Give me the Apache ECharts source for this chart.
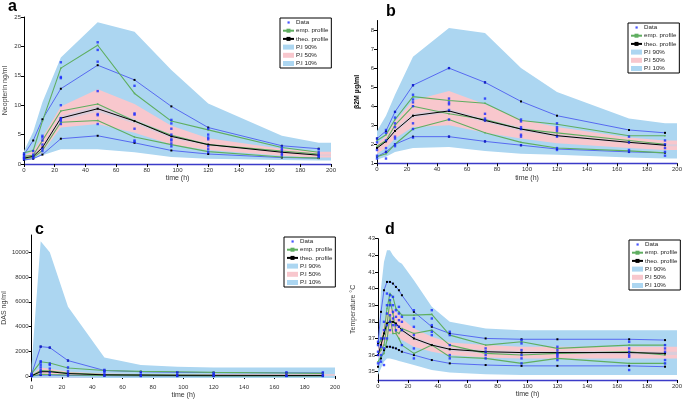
<!DOCTYPE html>
<html><head><meta charset="utf-8">
<script src="https://cdn.jsdelivr.net/npm/echarts@6/dist/echarts.min.js"></script>
<style>html,body{margin:0;padding:0;background:#fff}#c{width:685px;height:400px}</style>
</head><body><div id="c"></div>
<script>
// ---------- Panel a : Neopterin ----------
const bandTimesA = [0,6,12,24,48,72,96,120,168,192,200];
const a90Up = [2.2,5.5,10.5,18.1,24.1,22.5,16.0,10.3,4.8,3.6,3.6];
const a90Lo = [0.5,0.9,1.5,2.5,2.5,2.0,1.2,0.9,0.7,0.6,0.6];
const a50Up = [1.4,2.2,4.5,9.8,12.7,10.2,6.5,4.4,2.6,2.1,2.1];
const a50Lo = [0.7,1.0,2.0,6.2,6.8,5.3,3.3,2.4,1.4,1.1,1.1];
const a10Up = [1.1,1.4,3.0,8.2,9.9,7.7,5.0,3.5,2.1,1.6,1.6];
const a10Lo = [0.9,1.2,2.6,7.4,8.9,6.9,4.4,3.1,1.9,1.4,1.4];
const timesA = [0,6,12,24,48,72,96,120,168,192];
const aTheoUp = [1.6,4.0,7.6,12.8,16.8,14.3,9.8,6.2,3.1,2.6];
const aTheoLo = [0.7,0.9,1.6,4.3,4.8,3.6,2.3,1.7,1.1,1.0];
const aTheoMed = [1.0,1.3,2.8,7.8,9.4,7.3,4.7,3.3,2.0,1.5];
const aEmpUp = [1.9,2.3,7.3,16.3,20.2,12.0,7.3,5.8,2.8,2.0];
const aEmpMed = [1.3,1.5,4.0,9.0,10.2,7.3,4.9,3.3,2.2,1.7];
const aEmpLo = [0.9,1.1,2.3,7.1,7.4,4.6,3.3,2.1,1.2,1.0];
const aObs = [[0.8,1.0,1.2,1.5,1.8],[1.0,1.3,1.6,2.2],[2.2,2.6,3.3,4.0,4.5,4.8],[6.8,7.3,7.6,7.8,10.0,14.6,14.8,17.3],[6.8,8.3,8.5,12.4,17.4,19.4,20.7],[3.8,4.0,6.0,8.4,8.6,13.3],[3.0,3.5,4.0,4.2,5.0,6.0,6.9,7.5],[2.0,2.5,3.0,4.2,4.5,5.0,6.0],[1.5,1.8,2.3,2.6,3.0],[1.2,1.4,1.7,2.0,2.5]];

// ---------- Panel b : beta2M ----------
const bandTimesB = [0,6,12,24,48,72,96,120,168,192,200];
const b90Up = [2.7,3.5,4.6,6.6,8.1,7.85,6.0,4.75,3.35,3.1,3.1];
const b90Lo = [1.2,1.35,1.6,1.8,1.85,1.65,1.5,1.45,1.3,1.25,1.25];
const b50Up = [2.0,2.45,3.2,4.3,4.8,4.1,3.3,2.9,2.35,2.2,2.2];
const b50Lo = [1.5,1.8,2.3,2.9,3.0,2.6,2.3,2.05,1.8,1.7,1.7];
const b10Up = [1.85,2.2,2.8,3.6,3.85,3.35,2.9,2.52,2.15,2.0,2.0];
const b10Lo = [1.75,2.1,2.6,3.4,3.65,3.15,2.7,2.38,2.05,1.9,1.9];
const timesB = [0,6,12,24,48,72,96,120,168,192];
const bTheoUp = [2.3,2.7,3.7,5.1,6.0,5.25,4.25,3.5,2.75,2.6];
const bTheoLo = [1.35,1.6,2.0,2.4,2.4,2.15,1.95,1.75,1.6,1.55];
const bTheoMed = [1.8,2.15,2.7,3.5,3.75,3.25,2.8,2.45,2.1,1.95];
const bEmpUp = [2.2,2.5,3.3,4.5,4.3,4.15,3.25,3.05,2.45,2.45];
const bEmpMed = [1.9,2.2,3.0,4.0,3.6,3.3,2.8,2.6,2.2,2.0];
const bEmpLo = [1.35,1.5,2.0,2.8,3.3,2.6,2.1,1.8,1.65,1.55];
const bObs = [[1.25,1.4,1.7,2.1,2.3],[1.25,1.6,1.8,2.2,2.6,2.75],[1.9,2.0,2.3,2.4,2.9,3.1,3.4,3.7],[2.35,2.8,3.1,4.0,4.2,4.35,4.6,5.1],[2.4,3.3,3.8,4.1,4.2,4.4,6.0],[2.15,3.25,3.35,3.6,4.4,5.25],[1.95,2.4,2.5,2.8,2.9,3.2,3.3],[1.7,1.8,2.4,2.7,2.8,2.9,3.1],[1.6,1.7,2.1,2.4],[1.4,1.6,1.8,2.0,2.2]];

// ---------- Panel c : DAS ----------
const bandTimesC = [0,6,12,24,48,72,96,120,168,192,200];
const c90Up = [900,10900,10000,5600,1500,900,750,700,700,700,700];
const c90Lo = [-150,-100,-100,-100,-150,-150,-150,-150,-150,-150,-150];
const c50Up = [100,700,600,350,200,170,150,150,150,150,150];
const c50Lo = [0,150,150,100,50,30,20,20,20,20,20];
const c10Up = [40,420,420,250,130,100,80,80,70,70,70];
const c10Lo = [10,290,290,160,80,60,45,45,35,35,35];
const timesC = [0,6,12,24,48,72,96,120,168,192];
const cTheoUp = [150,2380,2300,1250,450,350,300,280,260,250];
const cTheoLo = [0,80,80,50,30,20,15,10,10,10];
const cTheoMed = [20,350,350,200,100,80,60,60,50,50];
const cEmpUp = [200,1150,1050,650,450,380,350,300,250,220];
const cEmpMed = [30,450,400,250,130,100,80,60,50,50];
const cEmpLo = [0,150,120,80,40,30,20,15,10,10];
const cObs = [[0,50,200],[100,300,500,700,900,1100,1200,2380],[100,300,600,900,1000,2300],[50,200,400,700,1250],[30,100,300,400,500],[0,100,300],[0,100,300],[0,100,250],[0,50,300],[0,100,300]];

// ---------- Panel d : Temperature ----------
const bandTimesD = [0,2,4,6,8,10,12,14,16,24,36,48,72,96,120,168,192,200];
const d90Up = [36.0,40.0,41.6,42.3,42.3,42.0,41.8,41.6,41.5,40.5,38.9,38.0,37.6,37.5,37.5,37.5,37.5,37.5];
const d90Lo = [34.8,35.2,35.6,35.8,35.8,35.75,35.7,35.65,35.6,35.4,35.1,34.95,34.85,34.8,34.8,34.8,34.8,34.8];
const d50Up = [36.3,37.1,37.9,38.6,38.8,38.75,38.6,38.4,38.2,37.6,37.1,36.75,36.6,36.5,36.5,36.5,36.5,36.5];
const d50Lo = [35.8,36.1,36.6,37.1,37.3,37.3,37.2,37.05,36.9,36.5,36.2,36.0,35.85,35.8,35.8,35.8,35.8,35.8];
const d10Up = [36.1,36.7,37.4,38.0,38.1,38.1,38.0,37.8,37.6,37.1,36.7,36.45,36.3,36.25,36.25,36.25,36.2,36.2];
const d10Lo = [35.9,36.5,37.2,37.8,37.9,37.9,37.8,37.6,37.4,36.9,36.5,36.25,36.1,36.05,36.05,36.05,36.0,36.0];
const timesD = [0,2,4,6,8,10,12,14,16,24,36,48,72,96,120,168,192];
const dTheoUp = [36.7,38.6,39.9,40.4,40.4,40.3,40.1,39.9,39.6,38.6,37.7,37.3,37.0,36.95,36.95,36.95,36.9];
const dTheoLo = [35.3,35.8,36.3,36.5,36.5,36.45,36.4,36.3,36.2,36.0,35.7,35.5,35.4,35.35,35.35,35.35,35.3];
const dTheoMed = [36.0,36.6,37.3,37.9,38.0,38.0,37.9,37.7,37.5,37.0,36.6,36.35,36.2,36.15,36.15,36.15,36.1];
const dEmpUp = [36.6,36.9,37.3,38.8,39.7,39.5,38.8,38.6,38.4,38.4,38.45,37.2,36.6,36.8,36.4,36.6,36.6];
const dEmpMed = [36.0,36.3,36.6,37.8,39.3,38.5,37.4,37.3,37.6,37.3,37.5,36.6,36.1,36.0,36.1,36.2,36.0];
const dEmpLo = [35.6,35.9,36.1,36.9,38.3,37.3,37.3,37.0,36.6,36.1,36.6,35.9,35.8,35.5,35.8,35.5,35.5];
const dObs = [[35.5,36.0,36.2,36.6,36.8],[35.6,36.0,36.5,37.0],[35.4,36.4,37.0,37.5,38.0],[37.0,37.8,38.5,39.0,39.7],[37.5,38.0,38.4,39.0,39.3,39.6],[37.8,38.2,38.6,39.0,39.5],[37.5,37.8,38.3,38.7],[37.7,38.1,38.5,38.9],[36.6,37.5,38.0,38.3],[35.8,36.4,37.2,37.7,38.2,38.7],[37.2,37.4,37.8,38.2,38.7],[35.8,36.0,36.6,37.2,37.4],[35.8,36.0,36.2,36.4],[35.5,35.8,36.0,36.3,36.7,36.9],[35.7,35.9,36.0,36.1,36.3,36.5],[35.1,35.9,36.0,36.2,36.4,36.8],[35.5,35.7,36.2,36.4,36.6]];

const xTicks = [0,20,40,60,80,100,120,140,160,180,200];
const yTicksA = [0,5,10,15,20,25];
const yTicksB = [1,2,3,4,5,6,7,8];
const yTicksC = [0,2000,4000,6000,8000,10000];
const yTicksD = [35,36,37,38,39,40,41,42,43];

const panels = [
  {bt:bandTimesA,u90:a90Up,l90:a90Lo,u50:a50Up,l50:a50Lo,u10:a10Up,l10:a10Lo,t:timesA,tu:aTheoUp,tl:aTheoLo,tm:aTheoMed,eu:aEmpUp,em:aEmpMed,el:aEmpLo,obs:aObs},
  {bt:bandTimesB,u90:b90Up,l90:b90Lo,u50:b50Up,l50:b50Lo,u10:b10Up,l10:b10Lo,t:timesB,tu:bTheoUp,tl:bTheoLo,tm:bTheoMed,eu:bEmpUp,em:bEmpMed,el:bEmpLo,obs:bObs},
  {bt:bandTimesC,u90:c90Up,l90:c90Lo,u50:c50Up,l50:c50Lo,u10:c10Up,l10:c10Lo,t:timesC,tu:cTheoUp,tl:cTheoLo,tm:cTheoMed,eu:cEmpUp,em:cEmpMed,el:cEmpLo,obs:cObs},
  {bt:bandTimesD,u90:d90Up,l90:d90Lo,u50:d50Up,l50:d50Lo,u10:d10Up,l10:d10Lo,t:timesD,tu:dTheoUp,tl:dTheoLo,tm:dTheoMed,eu:dEmpUp,em:dEmpMed,el:dEmpLo,obs:dObs}
];

const FONT = 'Liberation Sans, Arial, sans-serif';
const BLUE_BAND = '#acd6f1', PINK = '#f8c7cd', LINE_BLUE = '#4d5cf0', GREEN = '#5fae60', DOT = '#1a2bff';

const grids = [
  {left:24, top:17, width:307, height:147},
  {left:377, top:20.5, width:302, height:142.8},
  {left:27, top:235, width:308, height:147.7},
  {left:378, top:238.7, width:302.5, height:141.3}
];
const yAxesCfg = [
  {min:0,max:25,ticks:yTicksA,name:'Neopterin ng/ml',gap:15,bold:false},
  {min:1,max:8.5,ticks:yTicksB,name:'β2M µg/ml',gap:16,bold:true},
  {min:-400,max:11400,ticks:yTicksC,name:'DAS ng/ml',gap:21,bold:false},
  {min:34.5,max:43,ticks:yTicksD,name:'Temperature °C',gap:21,bold:false}
];

const xAxis = [], yAxis = [], series = [], legend = [];
const pair = (ts, vs) => ts.map((t,i)=>[t,vs[i]]);

panels.forEach((p, g) => {
  xAxis.push({type:'value', gridIndex:g, min:0, max:200,
    name:'time (h)', nameLocation:'middle', nameGap:11,
    nameTextStyle:{fontSize:7, color:'#333', fontFamily:FONT},
    axisLine:{lineStyle:{color:'#3b3bc8', width:1.3}},
    axisTick:{show:true, length:3, lineStyle:{color:'#000'}, customValues:xTicks},
    axisLabel:{fontSize:6, color:'#333', margin:3, fontFamily:FONT, customValues:xTicks},
    splitLine:{show:false}});
  const yc = yAxesCfg[g];
  yAxis.push({type:'value', gridIndex:g, min:yc.min, max:yc.max,
    name:yc.name, nameLocation:'middle', nameGap:yc.gap,
    nameTextStyle:{fontSize:7, color:yc.bold?'#000':'#444', fontWeight:yc.bold?'bold':'normal', fontFamily:FONT},
    axisLine:{show:true, lineStyle:{color:'#000', width:1}},
    axisTick:{show:true, length:3, lineStyle:{color:'#000'}, customValues:yc.ticks},
    axisLabel:{fontSize:6, color:'#333', margin:3, fontFamily:FONT, customValues:yc.ticks, formatter:v=>String(v)},
    splitLine:{show:false}});
  const band = (lo, up, color, name, z, opacity) => series.push({
    type:'custom', name:name, xAxisIndex:g, yAxisIndex:g, z:z, silent:true, clip:true,
    itemStyle:{color:color},
    data: p.bt.map((t,i)=>[t, lo[i], up[i]]),
    encode:{x:0, y:[1,2]},
    renderItem:(params, api) => {
      if (params.dataIndex !== 0) return null;
      const pts = [];
      p.bt.forEach((t,i)=>pts.push(api.coord([t, up[i]])));
      for (let i=p.bt.length-1;i>=0;i--) pts.push(api.coord([p.bt[i], lo[i]]));
      return {type:'polygon', shape:{points:pts}, style:{fill:color, opacity:opacity}};
    }
  });
  band(p.l90, p.u90, BLUE_BAND, 'P.I 90%', 1, 1);
  band(p.l50, p.u50, PINK, 'P.I 50%', 2, 1);
  band(p.l10, p.u10, BLUE_BAND, 'P.I 10%', 3, 0.4);
  const line = (vals, color, name, w, sym, symColor) => series.push({type:'line', name:name, xAxisIndex:g, yAxisIndex:g, data:pair(p.t, vals), symbol:'rect', symbolSize:sym, itemStyle:{color:symColor}, lineStyle:{color:color, width:w}, z:5, silent:true});
  line(p.tu, LINE_BLUE, 'theo. 90', 0.9, 2, '#000');
  line(p.tl, LINE_BLUE, 'theo. 10', 0.9, 2, '#000');
  line(p.eu, GREEN, 'emp. profile', 1.1, 1.5, GREEN);
  line(p.em, GREEN, 'emp. profile', 1.1, 1.5, GREEN);
  line(p.el, GREEN, 'emp. profile', 1.1, 1.5, GREEN);
  line(p.tm, '#000', 'theo. profile', 1, 2, '#000');
  const pts = [];
  p.obs.forEach((vals, i) => vals.forEach(v => pts.push([p.t[i], v])));
  series.push({type:'scatter', name:'Data', xAxisIndex:g, yAxisIndex:g, data:pts, symbol:'rect', symbolSize:2.4, itemStyle:{color:DOT}, z:6, silent:true});
});

const legendPos = [{left:280, top:18},{left:628, top:23},{left:284, top:237},{left:629, top:240}];
legendPos.forEach(pos => legend.push({
  left:pos.left, top:pos.top, orient:'vertical', itemWidth:11, itemHeight:5, itemGap:2.2,
  padding:[1.5,3,1.5,2], borderColor:'#000', borderWidth:1, backgroundColor:'#fff',
  selectedMode:false, textStyle:{fontSize:6.2, color:'#222', fontFamily:FONT, padding:[0,0,0,-3]},
  data:[
    {name:'Data', icon:'path://M0,0M11,0M11,5M0,5M4.5,1.4h2.2v2.2h-2.2z', itemStyle:{color:DOT}},
    {name:'emp. profile'},
    {name:'theo. profile'},
    {name:'P.I 90%', icon:'rect', itemStyle:{color:BLUE_BAND}},
    {name:'P.I 50%', icon:'rect', itemStyle:{color:PINK}},
    {name:'P.I 10%', icon:'rect', itemStyle:{color:BLUE_BAND, opacity:1}}
  ]
}));

const titles = [
  {text:'a', left:8, top:-1},
  {text:'b', left:386, top:4},
  {text:'c', left:35, top:222},
  {text:'d', left:385, top:222}
].map(t => ({text:t.text, left:t.left, top:t.top, padding:0, textStyle:{fontSize:16, fontWeight:'bold', color:'#000', fontFamily:FONT}}));

const chart = echarts.init(document.getElementById('c'), null, {renderer:'canvas'});
chart.setOption({animation:false, title:titles, grid:grids, xAxis, yAxis, series, legend});
</script></body></html>
